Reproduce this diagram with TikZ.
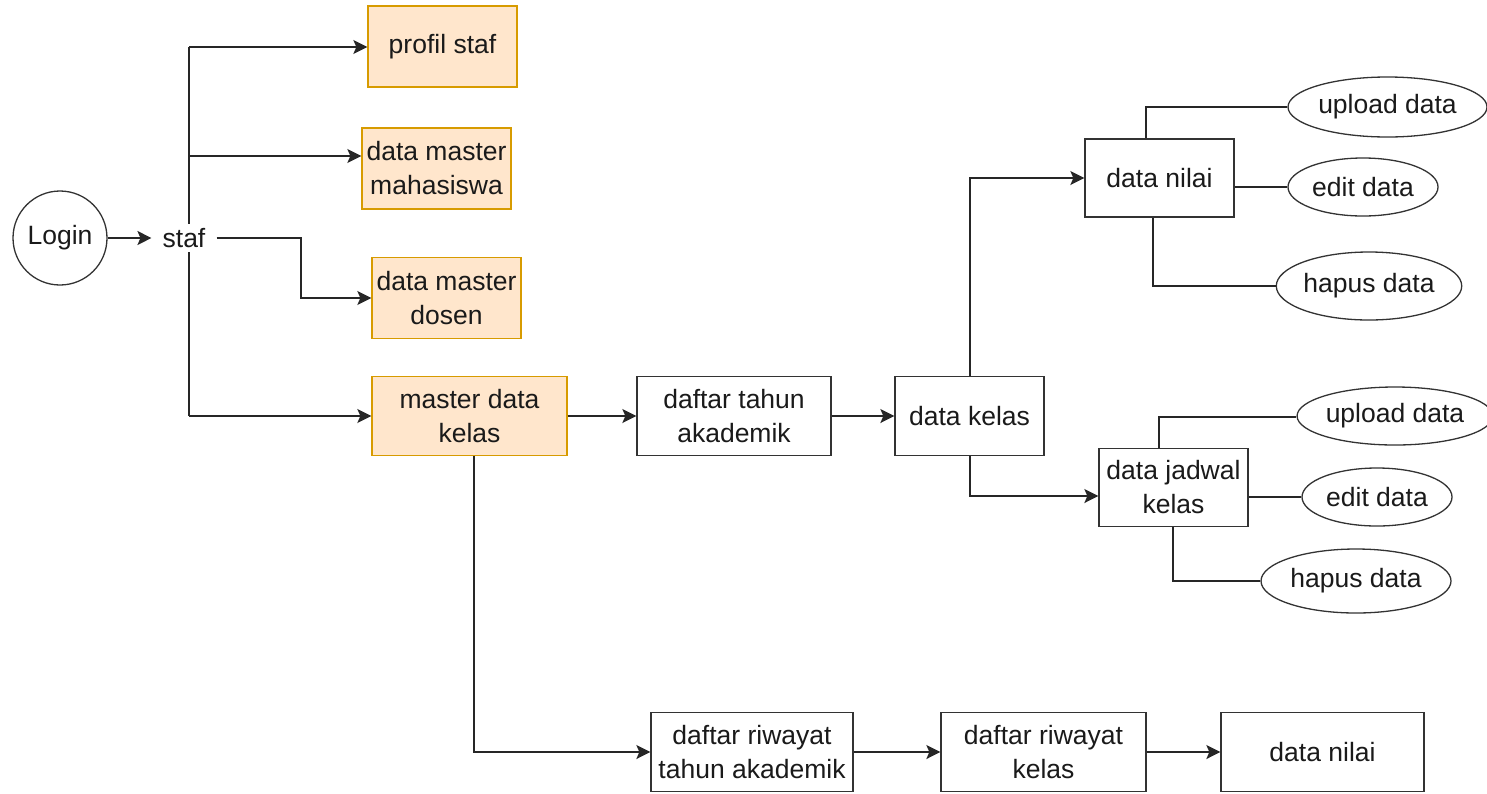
\documentclass[tikz,border=0pt]{standalone}
\usepackage{fontspec}
\setmainfont{Liberation Sans}
\usetikzlibrary{arrows.meta,shapes.geometric}
\definecolor{orfill}{HTML}{FFE6CC}
\definecolor{ordraw}{HTML}{D79B00}
\definecolor{txt}{HTML}{1A1A1A}
\begin{document}
\begin{tikzpicture}[x=1pt,y=-1pt,
  every node/.style={font=\fontsize{26.5}{34}\selectfont, text=txt, align=center},
  line/.style={line width=1.6pt, draw=black!85},
  arr/.style={line, -{Stealth[length=14pt,width=14pt,inset=3pt]}},
  plain/.style={draw=black!80, line width=1.3pt, fill=white, inner sep=0pt},
  orange/.style={draw=ordraw, line width=1.3pt, fill=orfill, inner sep=0pt},
  oval/.style={ellipse, draw=black!80, line width=1.3pt, fill=white, inner sep=0pt}]
\useasboundingbox (0,0) rectangle (1487,793);

% left vertical trunk (drawn first; staf node covers it)
\coordinate (v1) at (189,47);
\coordinate (v2) at (189,156);
\coordinate (v4) at (189,416);
\draw[line] (v1) -- (v4);

\node[circle, draw=black!80, line width=1.3pt, minimum size=94pt, inner sep=0pt] (login) at (60,238) {Login};
\node[fill=white, inner xsep=11pt, inner ysep=4pt] (staf) at (184,238) {staf};

\node[orange, minimum width=149pt, minimum height=81pt] (profil) at (442.5,46.5) {profil staf};
\node[orange, minimum width=149pt, minimum height=81pt] (mhs) at (436.5,168.5) {data master\\mahasiswa};
\node[orange, minimum width=149pt, minimum height=81pt] (dosen) at (446.5,298) {data master\\dosen};
\node[orange, minimum width=195pt, minimum height=79pt] (mkelas) at (469.5,416) {master data\\kelas};

\node[plain, minimum width=194pt, minimum height=79pt] (dta) at (734,416) {daftar tahun\\akademik};
\node[plain, minimum width=149pt, minimum height=79pt] (dkelas) at (969.5,416) {data kelas};
\node[plain, minimum width=149pt, minimum height=78pt] (nilai) at (1159.5,178) {data nilai};
\node[plain, minimum width=149pt, minimum height=78pt] (jadwal) at (1173.5,487.5) {data jadwal\\kelas};

\node[plain, minimum width=202pt, minimum height=79pt] (r1) at (752,752) {daftar riwayat\\tahun akademik};
\node[plain, minimum width=205pt, minimum height=79pt] (r2) at (1043.5,752) {daftar riwayat\\kelas};
\node[plain, minimum width=203pt, minimum height=79pt] (r3) at (1322.5,752) {data nilai};

\node[oval, minimum width=199pt, minimum height=60pt] (up1) at (1387.5,107) {upload data};
\node[oval, minimum width=150pt, minimum height=58pt] (ed1) at (1363,187) {edit data};
\node[oval, minimum width=162pt, minimum height=68pt] (hp1) at (1369,286) {hapus data};

\node[oval, minimum width=184pt, minimum height=58pt] (up2) at (1395,416) {upload data};
\node[oval, minimum width=150pt, minimum height=58pt] (ed2) at (1377,497) {edit data};
\node[oval, minimum width=190pt, minimum height=64pt] (hp2) at (1356,581) {hapus data};

% connectors
\draw[arr] (login) -- (staf);
\draw[arr] (v1) -- (v1 -| profil.west);
\draw[arr] (v2) -- (v2 -| mhs.west);
\coordinate (s1) at (301,238);
\draw[arr] (staf.east) -- (s1) |- (dosen.west);
\draw[arr] (v4) -- (v4 -| mkelas.west);

\draw[arr] (mkelas) -- (dta);
\draw[arr] (dta) -- (dkelas);
\draw[arr] (dkelas.north -| 970,0) |- (nilai.west);
\coordinate (j1) at (970,496);
\draw[arr] (dkelas.south -| j1) -- (j1) -- (j1 -| jadwal.west);

\coordinate (m1) at (474,752);
\draw[arr] (mkelas.south -| m1) -- (m1) -- (r1.west);
\draw[arr] (r1) -- (r2);
\draw[arr] (r2) -- (r3);

\coordinate (n1) at (1146,107);
\draw[line] (nilai.north -| n1) -- (n1) -- (up1.west);
\draw[line] (nilai.east |- ed1.west) -- (ed1.west);
\coordinate (n3) at (1153,286);
\draw[line] (nilai.south -| n3) -- (n3) -- (hp1.west);

\coordinate (k1) at (1159,417);
\draw[line] (jadwal.north -| k1) -- (k1) -- (k1 -| up2.west);
\draw[line] (jadwal.east |- ed2.west) -- (ed2.west);
\coordinate (k3) at (1173,581);
\draw[line] (jadwal.south -| k3) -- (k3) -- (hp2.west);
\end{tikzpicture}
\end{document}
